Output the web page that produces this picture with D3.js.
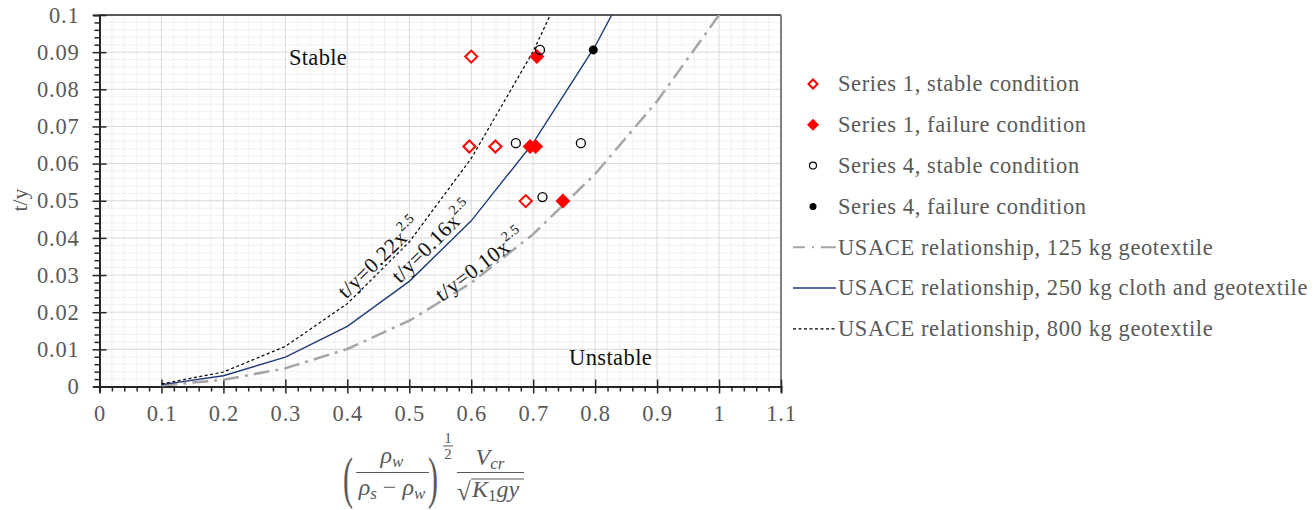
<!DOCTYPE html>
<html>
<head>
<meta charset="utf-8">
<script src="https://cdn.jsdelivr.net/npm/d3@7"></script>
<style>
  html, body { margin: 0; padding: 0; background: #fff; }
  svg { display: block; }
  text { font-family: "Liberation Serif", "DejaVu Serif", serif; }
</style>
</head>
<body>
<svg id="chart" width="1314" height="510"></svg>
<script>
// ---- data ----
const curveX125 = [0.1, 0.2, 0.3, 0.4, 0.5, 0.6, 0.7, 0.8, 0.9, 1.0];
const usace125 = [0.0003, 0.0018, 0.0049, 0.0101, 0.0177, 0.0279, 0.0410, 0.0572, 0.0768, 0.1000];
const curveX250 = [0.1, 0.2, 0.3, 0.4, 0.5, 0.6, 0.7, 0.8, 0.9];
const usace250 = [0.0005, 0.0029, 0.0079, 0.0162, 0.0283, 0.0446, 0.0656, 0.0916, 0.1230];
const curveX800 = [0.1, 0.2, 0.3, 0.4, 0.5, 0.6, 0.7, 0.8];
const usace800 = [0.0007, 0.0039, 0.0108, 0.0223, 0.0389, 0.0614, 0.0902, 0.1259];

const s1StableX = [0.600, 0.597, 0.639, 0.688];
const s1StableY = [0.0888, 0.0646, 0.0646, 0.0499];
const s1FailX = [0.706, 0.695, 0.704, 0.748];
const s1FailY = [0.0888, 0.0646, 0.0646, 0.0499];
const s4StableX = [0.711, 0.672, 0.777, 0.715];
const s4StableY = [0.0906, 0.0655, 0.0655, 0.0510];
const s4FailX = [0.797];
const s4FailY = [0.0906];

const xMajorTicks = [0, 0.1, 0.2, 0.3, 0.4, 0.5, 0.6, 0.7, 0.8, 0.9, 1.0, 1.1];
const xTickLabels = ["0", "0.1", "0.2", "0.3", "0.4", "0.5", "0.6", "0.7", "0.8", "0.9", "1", "1.1"];
const yMajorTicks = [0, 0.01, 0.02, 0.03, 0.04, 0.05, 0.06, 0.07, 0.08, 0.09, 0.1];
const yTickLabels = ["0", "0.01", "0.02", "0.03", "0.04", "0.05", "0.06", "0.07", "0.08", "0.09", "0.1"];

const legendLabels = [
  "Series 1, stable condition",
  "Series 1, failure condition",
  "Series 4, stable condition",
  "Series 4, failure condition",
  "USACE relationship, 125 kg geotextile",
  "USACE relationship, 250 kg cloth and geotextile",
  "USACE relationship, 800 kg geotextile"
];

// ---- layout ----
const svg = d3.select("#chart");
const plotL = 99.5, plotR = 781, plotT = 15, plotB = 386.5;
const x = d3.scaleLinear().domain([0, 1.1]).range([plotL, plotR]);
const y = d3.scaleLinear().domain([0, 0.1]).range([plotB, plotT]);

const textGrey = "#595959";

// minor / major grid
const xMinor = d3.range(0, 1.1001, 0.02).filter(v => Math.abs(v * 10 - Math.round(v * 10)) > 1e-6);
const yMinor = d3.range(0, 0.10001, 0.002).filter(v => Math.abs(v * 100 - Math.round(v * 100)) > 1e-6);

const grid = svg.append("g");
grid.selectAll(".xm").data(xMinor).join("line")
  .attr("x1", d => x(d)).attr("x2", d => x(d)).attr("y1", plotT).attr("y2", plotB)
  .attr("stroke", "#f0f0f0").attr("stroke-width", 1);
grid.selectAll(".ym").data(yMinor).join("line")
  .attr("x1", plotL).attr("x2", plotR).attr("y1", d => y(d)).attr("y2", d => y(d))
  .attr("stroke", "#f0f0f0").attr("stroke-width", 1);
grid.selectAll(".xM").data(xMajorTicks).join("line")
  .attr("x1", d => x(d)).attr("x2", d => x(d)).attr("y1", plotT).attr("y2", plotB)
  .attr("stroke", "#d9d9d9").attr("stroke-width", 1);
grid.selectAll(".yM").data(yMajorTicks).join("line")
  .attr("x1", plotL).attr("x2", plotR).attr("y1", d => y(d)).attr("y2", d => y(d))
  .attr("stroke", "#d9d9d9").attr("stroke-width", 1);

// frame: top and right edges
svg.append("line").attr("x1", plotL).attr("x2", plotR).attr("y1", plotT).attr("y2", plotT)
  .attr("stroke", "#595959").attr("stroke-width", 2);
svg.append("line").attr("x1", plotR).attr("x2", plotR).attr("y1", plotT).attr("y2", plotB)
  .attr("stroke", "#7f7f7f").attr("stroke-width", 2);

// ---- axes ----
const xAxisMinor = d3.axisBottom(x).tickValues(xMinor).tickSize(5).tickFormat("");
const gxm = svg.append("g").attr("transform", `translate(0,${plotB})`).call(xAxisMinor);
gxm.select(".domain").remove();
gxm.selectAll("line").attr("stroke", "#262626").attr("stroke-width", 1.5);

const xAxis = d3.axisBottom(x).tickValues(xMajorTicks).tickSize(6)
  .tickFormat((d, i) => xTickLabels[i]);
const gx = svg.append("g").attr("transform", `translate(0,${plotB})`).call(xAxis);
gx.select(".domain").attr("stroke", "#262626").attr("stroke-width", 2);
gx.selectAll(".tick line").attr("y1", -7).attr("y2", 7).attr("stroke", "#262626").attr("stroke-width", 1.5);
gx.selectAll(".tick text").attr("y", 27).attr("dy", "0.32em")
  .attr("fill", textGrey).style("font-size", "22.5px").style("letter-spacing", "0.8px")
  .style("font-family", "Liberation Serif");

const yAxisMinor = d3.axisLeft(y).tickValues(yMinor).tickSize(5).tickFormat("");
const gym = svg.append("g").attr("transform", `translate(${plotL},0)`).call(yAxisMinor);
gym.select(".domain").remove();
gym.selectAll("line").attr("stroke", "#262626").attr("stroke-width", 1.5);

const yAxis = d3.axisLeft(y).tickValues(yMajorTicks).tickSize(6)
  .tickFormat((d, i) => yTickLabels[i]);
const gy = svg.append("g").attr("transform", `translate(${plotL},0)`).call(yAxis);
gy.select(".domain").attr("stroke", "#262626").attr("stroke-width", 2);
gy.selectAll(".tick line").attr("x1", -7).attr("x2", 7).attr("stroke", "#262626").attr("stroke-width", 1.5);
gy.selectAll(".tick text").attr("x", -20).attr("dy", "0.32em")
  .attr("fill", textGrey).style("font-size", "22.5px").style("letter-spacing", "0.8px")
  .style("font-family", "Liberation Serif");

// y axis title
svg.append("text").attr("transform", "translate(27,200) rotate(-90)")
  .attr("text-anchor", "middle").attr("fill", textGrey).style("font-size", "22px")
  .text("t/y");

// ---- curves ----
svg.append("clipPath").attr("id", "plotClip").append("rect")
  .attr("x", plotL).attr("y", plotT).attr("width", plotR - plotL).attr("height", plotB - plotT);
const curves = svg.append("g").attr("clip-path", "url(#plotClip)");
const line = d3.line().x(d => x(d[0])).y(d => y(d[1]));

curves.append("path").datum(d3.zip(curveX125, usace125)).attr("d", line)
  .attr("fill", "none").attr("stroke", "#a6a6a6").attr("stroke-width", 2.5)
  .attr("stroke-dasharray", "16,6,3,6");
curves.append("path").datum(d3.zip(curveX250, usace250)).attr("d", line)
  .attr("fill", "none").attr("stroke", "#1f3a7c").attr("stroke-width", 1.4);
curves.append("path").datum(d3.zip(curveX800, usace800)).attr("d", line)
  .attr("fill", "none").attr("stroke", "#000").attr("stroke-width", 1.2)
  .attr("stroke-dasharray", "3,2.5");

// ---- curve annotations ----
function curveLabel(px, py, angle, coef) {
  const t = svg.append("text")
    .attr("transform", `translate(${x(px)},${y(py)}) rotate(${angle})`)
    .attr("fill", "#111").style("font-size", "21.5px").style("letter-spacing", "0.4px");
  t.append("tspan").text("t/y=" + coef + "x");
  t.append("tspan").attr("dy", -10).style("font-size", "14px").text("2.5");
}
curveLabel(0.398, 0.0234, -44, "0.22");
curveLabel(0.485, 0.0276, -45, "0.16");
curveLabel(0.553, 0.0227, -37, "0.10");

// region labels
svg.append("text").attr("x", 289).attr("y", 65).attr("fill", "#111")
  .style("font-size", "22.5px").style("letter-spacing", "0.3px").text("Stable");
svg.append("text").attr("x", 569).attr("y", 365).attr("fill", "#111")
  .style("font-size", "22.5px").style("letter-spacing", "0.4px").text("Unstable");

// ---- scatter markers ----
const diamond = s => `M0,${-s}L${s},0L0,${s}L${-s},0Z`;
const pts = svg.append("g");
pts.selectAll(".s1s").data(d3.zip(s1StableX, s1StableY)).join("path")
  .attr("d", diamond(6)).attr("transform", d => `translate(${x(d[0])},${y(d[1])})`)
  .attr("fill", "#fff").attr("stroke", "#ff0000").attr("stroke-width", 2);
pts.selectAll(".s1f").data(d3.zip(s1FailX, s1FailY)).join("path")
  .attr("d", diamond(7.5)).attr("transform", d => `translate(${x(d[0])},${y(d[1])})`)
  .attr("fill", "#ff0000").attr("stroke", "none");
pts.selectAll(".s4s").data(d3.zip(s4StableX, s4StableY)).join("circle")
  .attr("cx", d => x(d[0])).attr("cy", d => y(d[1])).attr("r", 4.5)
  .attr("fill", "none").attr("stroke", "#000").attr("stroke-width", 1.3);
pts.selectAll(".s4f").data(d3.zip(s4FailX, s4FailY)).join("circle")
  .attr("cx", d => x(d[0])).attr("cy", d => y(d[1])).attr("r", 4.5)
  .attr("fill", "#000");

// ---- legend ----
const legend = svg.append("g");
const rowY = i => 84 + i * 40.8;
legendLabels.forEach((lab, i) => {
  legend.append("text").attr("x", 838).attr("y", rowY(i)).attr("dy", "0.33em")
    .attr("fill", textGrey).style("font-size", "22.5px").style("letter-spacing", "0.6px").text(lab);
});
legend.append("path").attr("d", diamond(4.5)).attr("transform", `translate(813,${rowY(0)})`)
  .attr("fill", "#fff").attr("stroke", "#ff0000").attr("stroke-width", 2);
legend.append("path").attr("d", diamond(6)).attr("transform", `translate(813,${rowY(1)})`)
  .attr("fill", "#ff0000");
legend.append("circle").attr("cx", 813).attr("cy", rowY(2)).attr("r", 3.5)
  .attr("fill", "none").attr("stroke", "#000").attr("stroke-width", 1.2);
legend.append("circle").attr("cx", 813).attr("cy", rowY(3)).attr("r", 3.5).attr("fill", "#000");
legend.append("line").attr("x1", 793).attr("x2", 836).attr("y1", rowY(4)).attr("y2", rowY(4))
  .attr("stroke", "#a6a6a6").attr("stroke-width", 2).attr("stroke-dasharray", "12,7,2,7,15");
legend.append("line").attr("x1", 793).attr("x2", 836).attr("y1", rowY(5)).attr("y2", rowY(5))
  .attr("stroke", "#1f3a7c").attr("stroke-width", 1.4);
legend.append("line").attr("x1", 793).attr("x2", 836).attr("y1", rowY(6)).attr("y2", rowY(6))
  .attr("stroke", "#000").attr("stroke-width", 1.2).attr("stroke-dasharray", "3,2.5");

// ---- x axis title: (ρw/(ρs−ρw))^(1/2) · Vcr/√(K1 g y) ----
const eq = svg.append("g").attr("fill", textGrey);
const it = sel => sel.style("font-style", "italic");
// parentheses
eq.append("text").attr("transform", "translate(348,497) scale(0.75,1.45)")
  .attr("text-anchor", "middle").style("font-size", "40px").text("(");
eq.append("text").attr("transform", "translate(433,497) scale(0.75,1.45)")
  .attr("text-anchor", "middle").style("font-size", "40px").text(")");
// first fraction
const num1 = eq.append("text").attr("x", 392).attr("y", 463).attr("text-anchor", "middle").style("font-size", "24px");
it(num1.append("tspan").text("ρ"));
it(num1.append("tspan").attr("dy", 4).style("font-size", "17px").text("w"));
eq.append("line").attr("x1", 356).attr("x2", 429).attr("y1", 472.5).attr("y2", 472.5)
  .attr("stroke", textGrey).attr("stroke-width", 1.2);
const den1 = eq.append("text").attr("x", 392).attr("y", 495).attr("text-anchor", "middle").style("font-size", "24px");
it(den1.append("tspan").text("ρ"));
it(den1.append("tspan").attr("dy", 4).style("font-size", "17px").text("s"));
den1.append("tspan").attr("dy", -4).text(" − ");
it(den1.append("tspan").text("ρ"));
it(den1.append("tspan").attr("dy", 4).style("font-size", "17px").text("w"));
// exponent 1/2
eq.append("text").attr("x", 448).attr("y", 443).attr("text-anchor", "middle").style("font-size", "15px").text("1");
eq.append("line").attr("x1", 443).attr("x2", 453).attr("y1", 446).attr("y2", 446)
  .attr("stroke", textGrey).attr("stroke-width", 1);
eq.append("text").attr("x", 448).attr("y", 459).attr("text-anchor", "middle").style("font-size", "15px").text("2");
// second fraction
const num2 = eq.append("text").attr("x", 490).attr("y", 465).attr("text-anchor", "middle").style("font-size", "24px");
it(num2.append("tspan").text("V"));
it(num2.append("tspan").attr("dy", 4).style("font-size", "17px").text("cr"));
eq.append("line").attr("x1", 457).attr("x2", 524).attr("y1", 472.5).attr("y2", 472.5)
  .attr("stroke", textGrey).attr("stroke-width", 1.2);
eq.append("text").attr("x", 457).attr("y", 500).style("font-size", "25px").text("√");
eq.append("line").attr("x1", 471).attr("x2", 524).attr("y1", 479).attr("y2", 479)
  .attr("stroke", textGrey).attr("stroke-width", 1.2);
const den2 = eq.append("text").attr("x", 472).attr("y", 497).style("font-size", "24px");
it(den2.append("tspan").text("K"));
den2.append("tspan").attr("dy", 4).style("font-size", "17px").text("1");
it(den2.append("tspan").attr("dy", -4).text("gy"));
</script>
</body>
</html>
